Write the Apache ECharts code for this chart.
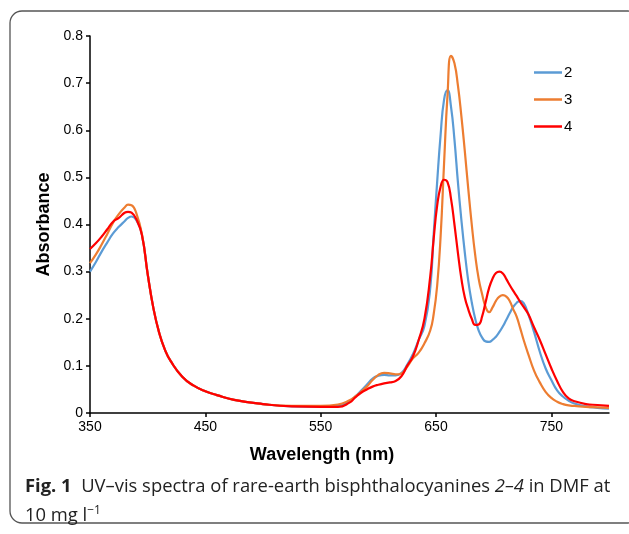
<!DOCTYPE html>
<html>
<head>
<meta charset="utf-8">
<script src="https://cdn.jsdelivr.net/npm/echarts@6/dist/echarts.min.js"></script>
<style>
html,body{margin:0;padding:0;background:#fff;}
#c{width:629px;height:534px;}
</style>
</head>
<body>
<div id="c"></div>
<script>
const wavelengths = [350,355,360,365,370,375,380,383,386,390,395,400,405,410,415,420,430,440,450,460,475,500,525,550,565,575,580,585,590,595,600,605,610,615,620,625,630,635,640,645,648,651,654,657,660,663,666,669,672,675,678,681,684,687,690,693,696,699,702,705,708,711,714,717,720,723,726,730,735,740,745,750,755,760,765,770,780,790,800];

const abs2 = [0.300,0.320,0.342,0.362,0.381,0.395,0.407,0.414,0.417,0.410,0.378,0.295,0.222,0.170,0.134,0.110,0.077,0.058,0.046,0.038,0.028,0.019,0.014,0.013,0.015,0.025,0.035,0.047,0.060,0.073,0.079,0.081,0.080,0.080,0.085,0.102,0.125,0.155,0.185,0.265,0.380,0.490,0.590,0.665,0.685,0.650,0.580,0.490,0.410,0.340,0.280,0.235,0.200,0.175,0.160,0.152,0.151,0.155,0.162,0.172,0.184,0.198,0.212,0.225,0.234,0.238,0.233,0.210,0.172,0.130,0.095,0.070,0.048,0.035,0.026,0.020,0.014,0.011,0.009];

const abs3 = [0.318,0.336,0.357,0.380,0.404,0.422,0.436,0.442,0.441,0.425,0.380,0.295,0.222,0.170,0.134,0.110,0.077,0.058,0.046,0.038,0.028,0.019,0.015,0.015,0.018,0.027,0.035,0.045,0.056,0.070,0.081,0.085,0.084,0.082,0.084,0.098,0.116,0.128,0.148,0.175,0.210,0.270,0.375,0.530,0.675,0.758,0.742,0.695,0.630,0.555,0.475,0.400,0.335,0.285,0.252,0.225,0.214,0.224,0.238,0.247,0.250,0.247,0.237,0.220,0.204,0.180,0.155,0.125,0.090,0.065,0.045,0.032,0.024,0.019,0.016,0.015,0.013,0.012,0.011];

const abs4 = [0.348,0.360,0.374,0.390,0.406,0.414,0.425,0.427,0.425,0.412,0.378,0.295,0.222,0.170,0.134,0.110,0.077,0.058,0.046,0.038,0.028,0.019,0.014,0.013,0.013,0.022,0.033,0.043,0.050,0.056,0.060,0.063,0.065,0.068,0.078,0.100,0.120,0.155,0.200,0.290,0.370,0.440,0.480,0.495,0.490,0.455,0.400,0.340,0.285,0.245,0.220,0.200,0.187,0.188,0.205,0.235,0.265,0.285,0.297,0.300,0.296,0.284,0.271,0.259,0.248,0.236,0.225,0.210,0.182,0.155,0.125,0.095,0.068,0.045,0.031,0.025,0.019,0.017,0.015];

const seriesNames = ['2','3','4'];
const seriesColors = ['#5B9BD5','#ED7D31','#FF0000'];
const seriesValues = [abs2, abs3, abs4];

const chart = echarts.init(document.getElementById('c'), null, {renderer:'canvas'});
chart.setOption({
  animation:false,
  backgroundColor:'#fff',
  grid:{left:90, right:20, top:36, bottom:121, containLabel:false},
  legend:{
    orient:'vertical', left:529, top:59, itemWidth:28, itemHeight:2.5, itemGap:10, icon:'rect',
    textStyle:{fontFamily:'Liberation Sans, Arial', fontSize:15, color:'#000', padding:[0,0,0,-3], lineHeight:17},
    data:seriesNames
  },
  xAxis:{
    type:'value', min:350, max:800, interval:100,
    name:'Wavelength (nm)', nameLocation:'middle', nameGap:33,
    nameTextStyle:{fontFamily:'Liberation Sans, Arial', fontWeight:'bold', fontSize:18, color:'#000', padding:[0,55,0,0]},
    axisLine:{lineStyle:{color:'#000', width:1.5}},
    axisTick:{show:true, inside:false, length:4, lineStyle:{color:'#000', width:1.5}},
    axisLabel:{fontFamily:'Liberation Sans, Arial', fontSize:14, color:'#000', margin:7, showMaxLabel:false},
    splitLine:{show:false}
  },
  yAxis:{
    type:'value', min:0, max:0.8, interval:0.1,
    name:'Absorbance', nameLocation:'middle', nameGap:35, nameRotate:90,
    nameTextStyle:{fontFamily:'Liberation Sans, Arial', fontWeight:'bold', fontSize:18, color:'#000'},
    axisLine:{show:true, lineStyle:{color:'#000', width:1.5}},
    axisTick:{show:true, inside:false, length:4, lineStyle:{color:'#000', width:1.5}},
    axisLabel:{fontFamily:'Liberation Sans, Arial', fontSize:14, color:'#000', margin:7},
    splitLine:{show:false}
  },
  series: seriesNames.map((n,i)=>({
    name:n, type:'line', smooth:0.5, symbol:'none', showSymbol:false,
    lineStyle:{color:seriesColors[i], width:2.2},
    itemStyle:{color:seriesColors[i]},
    data: wavelengths.map((w,j)=>[w, seriesValues[i][j]]),
    z: 2+i
  })),
  graphic:[
    {type:'rect', shape:{x:10, y:11, width:630, height:512, r:12}, style:{fill:null, stroke:'#555', lineWidth:1.3}, silent:true, z:-1},
    {type:'text', left:25, top:478, style:{
      text:'{b|Fig. 1}  UV–vis spectra of rare-earth bisphthalocyanines {i|2–4} in DMF at',
      font:'18.4px "Open Sans"', fill:'#222',
      rich:{b:{fontFamily:'Open Sans', fontWeight:'bold', fontSize:18.4, fill:'#222'}, i:{fontFamily:'Open Sans', fontStyle:'italic', fontSize:18.4, fill:'#222'}}
    }},
    {type:'text', left:25, top:505, style:{
      text:'10 mg l{s|−1}',
      font:'18.4px "Open Sans"', fill:'#222',
      rich:{s:{fontFamily:'Open Sans', fontSize:12, verticalAlign:'top', padding:[0,0,9,0], fill:'#222'}}
    }}
  ]
});
</script>
</body>
</html>
